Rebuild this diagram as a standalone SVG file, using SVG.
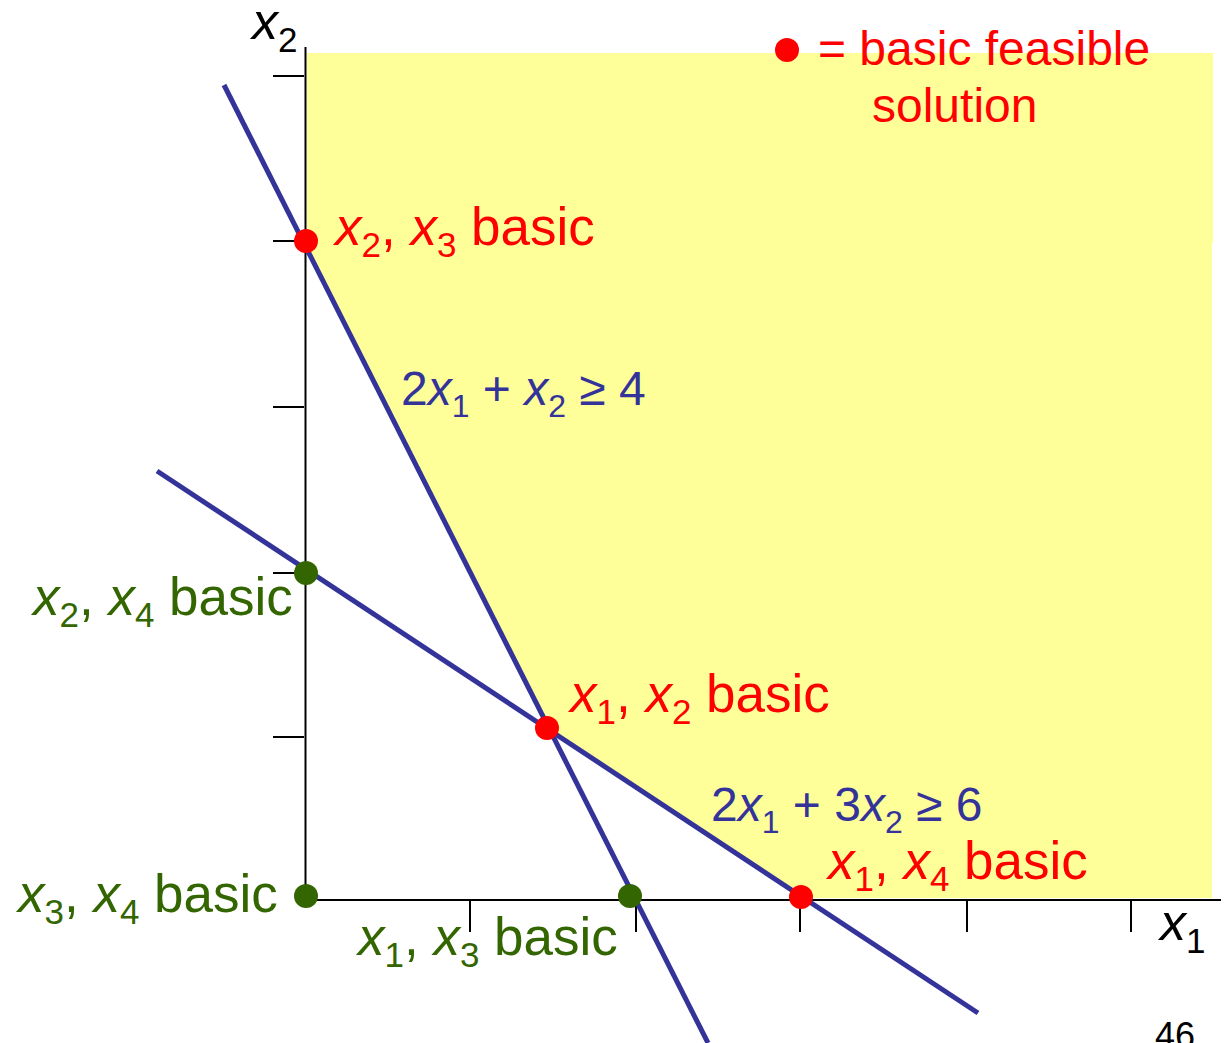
<svg xmlns="http://www.w3.org/2000/svg" width="1224" height="1043" viewBox="0 0 1224 1043">
<style>
text{font-family:"Liberation Sans",Arial,sans-serif}
.lbl{font-size:53px}
.eq{font-size:48px;fill:#333399}
.leg{font-size:48px;fill:#FF0000}
.red{fill:#FF0000}
.grn{fill:#336600}
.it{font-style:italic}
.sub{font-size:35px}
.eq .sub{font-size:32px}
.axis{stroke:#000;stroke-width:2;fill:none}
.con{stroke:#333399;stroke-width:5;fill:none}
</style>
<rect width="1224" height="1043" fill="#FFFFFF"/>
<g id="feasible-region">
<polygon points="307,53 1213,53 1213,243 1212,243 1212,898 801,898 547,728 307,249" fill="#FFFF99"/>
</g>
<g id="axes">
<line class="axis" x1="305.5" y1="47" x2="305.5" y2="900"/>
<line class="axis" x1="305" y1="900" x2="1221" y2="900"/>
<path class="axis" d="M273,76H304M273,241H304M273,407H304M273,573H304M273,737H304"/>
<path class="axis" d="M470,900V932M636,900V932M800,900V932M967,900V932M1131,900V932"/>
<text x="252" y="39" font-size="52"><tspan class="it">x</tspan><tspan class="sub" dy="13">2</tspan></text>
<text x="1160" y="940" font-size="52"><tspan class="it">x</tspan><tspan class="sub" dy="13">1</tspan></text>
</g>
<g id="connectors">
<line class="con" x1="224" y1="85" x2="708" y2="1043"/>
<line class="con" x1="157" y1="471" x2="978" y2="1013"/>
</g>
<g id="eq1">
<text class="eq" x="401" y="405">2<tspan class="it">x</tspan><tspan class="sub" dy="12">1</tspan><tspan dy="-12"> + </tspan><tspan class="it">x</tspan><tspan class="sub" dy="12">2</tspan><tspan dy="-12"> ≥ 4</tspan></text>
</g>
<g id="eq2">
<text class="eq" x="711" y="821">2<tspan class="it">x</tspan><tspan class="sub" dy="12">1</tspan><tspan dy="-12"> + 3</tspan><tspan class="it">x</tspan><tspan class="sub" dy="12">2</tspan><tspan dy="-12"> ≥ 6</tspan></text>
</g>
<g id="node-x2x3">
<circle class="red" cx="306" cy="241" r="12"/>
<text class="lbl red" x="335" y="245"><tspan class="it">x</tspan><tspan class="sub" dy="12">2</tspan><tspan dy="-12">, </tspan><tspan class="it">x</tspan><tspan class="sub" dy="12">3</tspan><tspan dy="-12"> basic</tspan></text>
</g>
<g id="node-x1x2">
<circle class="red" cx="547" cy="728" r="12"/>
<text class="lbl red" x="570" y="712"><tspan class="it">x</tspan><tspan class="sub" dy="12">1</tspan><tspan dy="-12">, </tspan><tspan class="it">x</tspan><tspan class="sub" dy="12">2</tspan><tspan dy="-12"> basic</tspan></text>
</g>
<g id="node-x1x4">
<circle class="red" cx="801" cy="897" r="12"/>
<text class="lbl red" x="828" y="879"><tspan class="it">x</tspan><tspan class="sub" dy="12">1</tspan><tspan dy="-12">, </tspan><tspan class="it">x</tspan><tspan class="sub" dy="12">4</tspan><tspan dy="-12"> basic</tspan></text>
</g>
<g id="node-x2x4">
<circle class="grn" cx="306" cy="573" r="12"/>
<text class="lbl grn" x="33" y="615"><tspan class="it">x</tspan><tspan class="sub" dy="12">2</tspan><tspan dy="-12">, </tspan><tspan class="it">x</tspan><tspan class="sub" dy="12">4</tspan><tspan dy="-12"> basic</tspan></text>
</g>
<g id="node-x3x4">
<circle class="grn" cx="306" cy="896" r="12"/>
<text class="lbl grn" x="18" y="912"><tspan class="it">x</tspan><tspan class="sub" dy="12">3</tspan><tspan dy="-12">, </tspan><tspan class="it">x</tspan><tspan class="sub" dy="12">4</tspan><tspan dy="-12"> basic</tspan></text>
</g>
<g id="node-x1x3">
<circle class="grn" cx="630" cy="896" r="12"/>
<text class="lbl grn" x="358" y="955"><tspan class="it">x</tspan><tspan class="sub" dy="12">1</tspan><tspan dy="-12">, </tspan><tspan class="it">x</tspan><tspan class="sub" dy="12">3</tspan><tspan dy="-12"> basic</tspan></text>
</g>
<g id="legend">
<circle class="red" cx="787" cy="50" r="12"/>
<text class="leg" x="818" y="65">= basic feasible</text>
<text class="leg" x="872" y="122">solution</text>
</g>
<g id="page-number">
<text x="1155" y="1048" font-size="36" fill="#000">46</text>
</g>
</svg>
